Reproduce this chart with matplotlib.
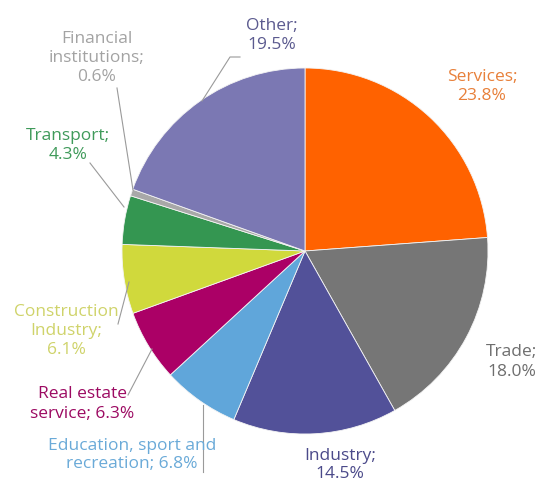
import matplotlib
matplotlib.use("Agg")
from matplotlib import pyplot as plt

# sector shares, clockwise from 12 o'clock
sectors = ["Services", "Trade", "Industry", "Education, sport and\nrecreation",
           "Real estate\nservice", "Construction\nIndustry", "Transport",
           "Financial\ninstitutions", "Other"]
shares = [23.8, 18.0, 14.5, 6.8, 6.3, 6.1, 4.3, 0.6, 19.5]
label_texts = ["Services;\n23.8%", "Trade;\n18.0%", "Industry;\n14.5%",
               "Education, sport and\nrecreation; 6.8%", "Real estate\nservice; 6.3%",
               "Construction\nIndustry;\n6.1%", "Transport;\n4.3%",
               "Financial\ninstitutions;\n0.6%", "Other;\n19.5%"]

slice_colors = ["#ff6200", "#767676", "#525199", "#60a6da", "#ab0066",
                "#d0d93c", "#349651", "#a8a8a8", "#7b78b3"]
text_colors = ["#e8803a", "#6e6e6e", "#4b4a8a", "#6aaad8", "#9c0a62",
               "#cfd36a", "#3f9a5a", "#a3a3a3", "#5b5a8f"]

# pixel geometry of the pie in the 539x487 picture
cx, cy, r = 305, 251, 183

def to_data(px, py):
    return (px - cx) / r, (cy - py) / r

# label centres (pixels) and leader lines (pixel points from pie to label)
label_pos = [(482, 86), (512, 362), (340, 465), (132, 455), (82, 404),
             (66, 331), (68, 145), (97, 58), (272, 35)]
leaders = {
    8: ((202, 101), (230, 57), (240, 57)),
    7: ((133, 190), (117, 88)),
    6: ((124, 207), (90, 163)),
    5: ((129, 282), (118, 324)),
    4: ((152, 349), (128, 395)),
    3: ((203, 405), (203, 472)),
}

fig = plt.figure(figsize=(5.39, 4.87), dpi=100)
ax = fig.add_axes([0, 0, 1, 1])
ax.pie(shares, colors=slice_colors, startangle=90, counterclock=False,
       radius=1, wedgeprops=dict(edgecolor="#f4f4f4", linewidth=0.6))
ax.set_xlim(-cx / r, (539 - cx) / r)
ax.set_ylim((cy - 487) / r, cy / r)
ax.set_aspect("auto")
ax.axis("off")

for i, txt in enumerate(label_texts):
    x, y = to_data(*label_pos[i])
    ax.text(x, y, txt, ha="center", va="center", color=text_colors[i],
            fontsize=12.5, family="Open Sans", linespacing=1.25)

for i, pts in leaders.items():
    xs, ys = zip(*[to_data(*p) for p in pts])
    ax.plot(xs, ys, color="#9a9a9a", linewidth=0.8)

fig.savefig("out.png", dpi=100)
